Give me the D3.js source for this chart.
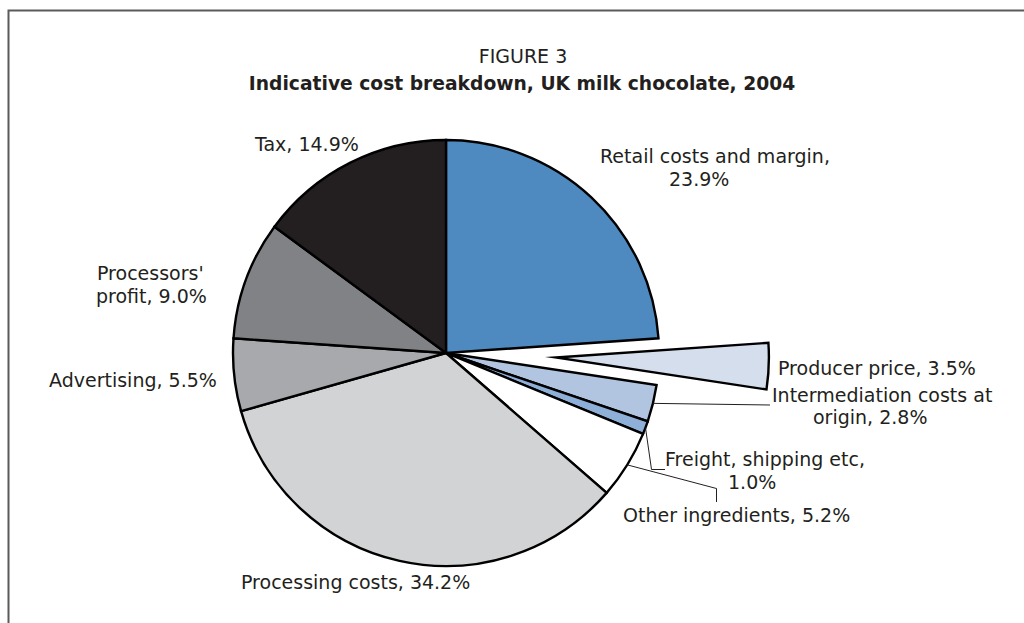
<!DOCTYPE html>
<html>
<head>
<meta charset="utf-8">
<script src="https://cdn.jsdelivr.net/npm/d3@7"></script>
<style>
  html, body { margin: 0; padding: 0; background: #fff; }
  svg { display: block; }
  text { font-family: "DejaVu Sans", "Open Sans", sans-serif; fill: #231f20; }
</style>
</head>
<body>
<svg id="chart" width="1024" height="623"></svg>
<script>
// Cost shares (% of retail price), clockwise from 12 o'clock
const categories = [
  "Retail costs and margin",
  "Producer price",
  "Intermediation costs at origin",
  "Freight, shipping etc",
  "Other ingredients",
  "Processing costs",
  "Advertising",
  "Processors' profit",
  "Tax"
];
const values = [23.9, 3.5, 2.8, 1.0, 5.2, 34.2, 5.5, 9.0, 14.9];

// Slice fills
const fills = ["#4e8ac0", "#d5deed", "#b1c5e1", "#8eafd8", "#ffffff", "#d2d3d5", "#a7a9ac", "#808285", "#231f20"];

// Producer price slice is pulled out of the pie
const explodedIndex = 1;

// Label placement: words on the first line, x of each line (start), baseline of each line,
// and optional leader-line bend points
const labelLayout = [
  { words: 4, x: [600, 669], y: [163, 185.5] },
  { words: 99, x: [778], y: [375] },
  { words: 3, x: [772, 813], y: [402, 424] },
  { words: 3, x: [665, 728], y: [466, 488.5] },
  { words: 99, x: [623], y: [522] },
  { words: 99, x: [241], y: [589] },
  { words: 99, x: [49], y: [387] },
  { words: 1, x: [97, 96], y: [280, 302.5] },
  { words: 99, x: [255], y: [151] }
];
const leaders = {
  2: [[770, 405]],
  3: [[651.5, 469.5], [665, 469.5]],
  4: [[716.5, 488.5], [716.5, 502]]
};

const svg = d3.select("#chart");
const cx = 446, cy = 353, radius = 213, explodeOffset = 110;

// Frame (top and left rules)
svg.append("path")
  .attr("d", "M8.5,623 V10.5 H1024")
  .attr("fill", "none")
  .attr("stroke", "#5b5b5b")
  .attr("stroke-width", 2);

// Titles
svg.append("text")
  .attr("x", 523).attr("y", 63)
  .attr("text-anchor", "middle")
  .attr("font-size", 19)
  .text("FIGURE 3");
svg.append("text")
  .attr("x", 522).attr("y", 90)
  .attr("text-anchor", "middle")
  .attr("font-size", 18.7)
  .attr("font-weight", "bold")
  .text("Indicative cost breakdown, UK milk chocolate, 2004");

const data = categories.map((c, i) => ({ name: c, value: values[i], index: i }));

const pie = d3.pie().value(d => d.value).sort(null).startAngle(0).endAngle(2 * Math.PI);
const arcs = pie(data);
const arc = d3.arc().innerRadius(0).outerRadius(radius);

const g = svg.append("g").attr("transform", `translate(${cx},${cy})`);

g.selectAll("path.slice")
  .data(arcs)
  .join("path")
  .attr("class", "slice")
  .attr("d", arc)
  .attr("fill", d => fills[d.data.index])
  .attr("stroke", "#000")
  .attr("stroke-width", 2.4)
  .attr("stroke-linejoin", "miter")
  .attr("stroke-miterlimit", 12)
  .attr("transform", d => {
    if (d.data.index !== explodedIndex) return null;
    const mid = (d.startAngle + d.endAngle) / 2;
    return `translate(${explodeOffset * Math.sin(mid)},${-explodeOffset * Math.cos(mid)})`;
  });

// Labels (one text element per label, one tspan per line)
const fmt = d3.format(".1f");
arcs.forEach(d => {
  const i = d.data.index;
  const lay = labelLayout[i];
  const words = `${d.data.name}, ${fmt(d.data.value)}%`.split(" ");
  const lines = [words.slice(0, lay.words).join(" "), words.slice(lay.words).join(" ")].filter(s => s.length);
  const t = svg.append("text").attr("font-size", 19);
  lines.forEach((line, k) => {
    t.append("tspan")
      .attr("x", lay.x[k])
      .attr("y", lay.y[k])
      .text(line);
  });
  if (leaders[i]) {
    const mid = (d.startAngle + d.endAngle) / 2;
    const start = [cx + radius * Math.sin(mid), cy - radius * Math.cos(mid)];
    svg.append("path")
      .attr("d", d3.line()([start, ...leaders[i]]))
      .attr("fill", "none")
      .attr("stroke", "#231f20")
      .attr("stroke-width", 1);
  }
});
</script>
</body>
</html>
